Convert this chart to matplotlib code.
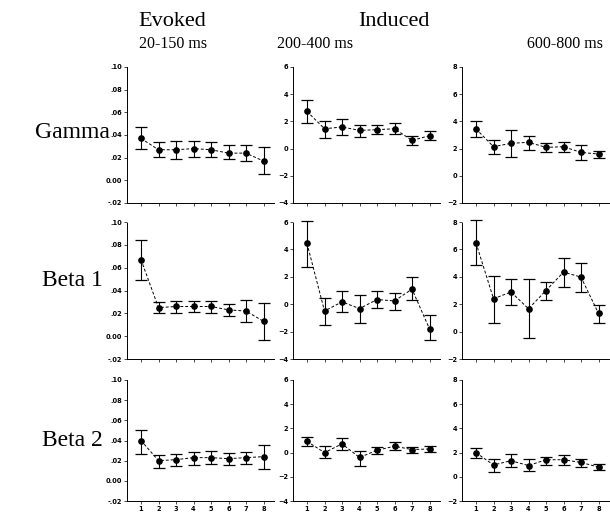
import matplotlib.pyplot as plt
from matplotlib.ticker import FuncFormatter

plt.rcParams['font.family'] = ['Liberation Serif', 'DejaVu Serif']

# x positions (sessions)
sessions = [1, 2, 3, 4, 5, 6, 7, 8]
row_names = ["Gamma", "Beta 1", "Beta 2"]
window_labels = ["20-150 ms", "200-400 ms", "600-800 ms"]

# Evoked 20-150 ms
ev_gamma = [0.037, 0.027, 0.027, 0.028, 0.027, 0.024, 0.024, 0.017]
ev_gamma_lo = [0.028, 0.021, 0.019, 0.021, 0.021, 0.019, 0.017, 0.006]
ev_gamma_hi = [0.047, 0.034, 0.035, 0.035, 0.034, 0.031, 0.031, 0.029]
ev_beta1 = [0.067, 0.025, 0.026, 0.026, 0.026, 0.023, 0.022, 0.013]
ev_beta1_lo = [0.049, 0.020, 0.020, 0.021, 0.020, 0.018, 0.012, -0.003]
ev_beta1_hi = [0.084, 0.030, 0.031, 0.031, 0.031, 0.028, 0.032, 0.029]
ev_beta2 = [0.040, 0.020, 0.021, 0.023, 0.023, 0.022, 0.023, 0.024]
ev_beta2_lo = [0.027, 0.013, 0.015, 0.016, 0.017, 0.016, 0.017, 0.012]
ev_beta2_hi = [0.050, 0.026, 0.027, 0.029, 0.030, 0.028, 0.029, 0.036]

# Induced 200-400 ms
in2_gamma = [2.73, 1.46, 1.59, 1.34, 1.39, 1.46, 0.60, 0.95]
in2_gamma_lo = [1.90, 0.78, 1.02, 0.85, 1.10, 1.10, 0.30, 0.60]
in2_gamma_hi = [3.58, 2.02, 2.15, 1.70, 1.70, 1.90, 0.90, 1.30]
in2_beta1 = [4.44, -0.50, 0.17, -0.32, 0.34, 0.24, 1.10, -1.80]
in2_beta1_lo = [2.73, -1.54, -0.60, -1.40, -0.27, -0.40, 0.30, -2.60]
in2_beta1_hi = [6.10, 0.46, 0.95, 0.70, 0.95, 0.85, 2.00, -0.80]
in2_beta2 = [0.93, 0.00, 0.72, -0.40, 0.19, 0.53, 0.25, 0.30]
in2_beta2_lo = [0.53, -0.48, 0.24, -1.10, -0.10, 0.19, 0.00, 0.05]
in2_beta2_hi = [1.25, 0.53, 1.17, 0.10, 0.50, 0.90, 0.50, 0.55]

# Induced 600-800 ms
in6_gamma = [3.45, 2.14, 2.39, 2.46, 2.09, 2.14, 1.72, 1.60]
in6_gamma_lo = [2.83, 1.60, 1.40, 1.92, 1.77, 1.72, 1.18, 1.28]
in6_gamma_hi = [4.00, 2.60, 3.37, 2.95, 2.40, 2.50, 2.27, 1.85]
in6_beta1 = [6.48, 2.40, 2.89, 1.67, 3.00, 4.34, 3.98, 1.33]
in6_beta1_lo = [4.85, 0.65, 1.92, -0.44, 2.30, 3.28, 2.91, 0.65]
in6_beta1_hi = [8.13, 4.05, 3.81, 3.81, 3.64, 5.39, 5.02, 1.92]
in6_beta2 = [1.99, 0.98, 1.33, 0.93, 1.41, 1.41, 1.19, 0.80]
in6_beta2_lo = [1.54, 0.40, 0.80, 0.45, 1.00, 1.00, 0.80, 0.53]
in6_beta2_hi = [2.39, 1.46, 1.86, 1.46, 1.67, 1.80, 1.50, 1.06]

panels = [
    [(ev_gamma, ev_gamma_lo, ev_gamma_hi), (in2_gamma, in2_gamma_lo, in2_gamma_hi), (in6_gamma, in6_gamma_lo, in6_gamma_hi)],
    [(ev_beta1, ev_beta1_lo, ev_beta1_hi), (in2_beta1, in2_beta1_lo, in2_beta1_hi), (in6_beta1, in6_beta1_lo, in6_beta1_hi)],
    [(ev_beta2, ev_beta2_lo, ev_beta2_hi), (in2_beta2, in2_beta2_lo, in2_beta2_hi), (in6_beta2, in6_beta2_lo, in6_beta2_hi)],
]

yticks = [[-0.02, 0.0, 0.02, 0.04, 0.06, 0.08, 0.10],
          [-4, -2, 0, 2, 4, 6],
          [-2, 0, 2, 4, 6, 8]]


def small_fmt(v, pos):
    if abs(v) < 1e-9:
        return "0.00"
    s = "%.2f" % v
    return s.replace("0.", ".")


W, H = 610, 513
fig = plt.figure(figsize=(W / 100, H / 100), dpi=100)

col_left = [127, 293, 462]
col_w = 147
rows = [(67, 203), (222, 359), (380, 501)]

for r in range(3):
    top, bot = rows[r]
    for c in range(3):
        ax = fig.add_axes([col_left[c] / W, 1 - bot / H, col_w / W, (bot - top) / H])
        m, lo, hi = panels[r][c]
        err = [[mm - l for mm, l in zip(m, lo)], [h - mm for mm, h in zip(m, hi)]]
        ax.plot(sessions, m, color="k", lw=0.7, ls=(0, (3, 2)))
        eb = ax.errorbar(sessions, m, yerr=err, fmt="o", color="k", ms=3.8,
                         capsize=4, elinewidth=0.8, capthick=0.9)
        for art in eb.lines[1] + eb.lines[2]:
            art.set_clip_on(False)
        ax.set_xlim(0.2, 8.6)
        ax.set_ylim(yticks[c][0], yticks[c][-1])
        ax.set_yticks(yticks[c])
        ax.set_xticks(sessions)
        if c == 0:
            ax.yaxis.set_major_formatter(FuncFormatter(small_fmt))
        if r < 2:
            ax.set_xticklabels([])
        for sp in ["top", "right"]:
            ax.spines[sp].set_visible(False)
        for sp in ["left", "bottom"]:
            ax.spines[sp].set_linewidth(0.7)
            ax.spines[sp].set_linestyle((0, (2, 1)))
        ax.tick_params(length=2, width=0.5, pad=1.5, direction="out")
        for lab in ax.get_xticklabels() + ax.get_yticklabels():
            lab.set_family("DejaVu Sans")
            lab.set_fontweight("bold")
            lab.set_fontsize(4.8)
        ax.patch.set_visible(False)

# row labels
row_y = [133, 281, 440]
for name, y in zip(row_names, row_y):
    fig.text(72 / W, 1 - y / H, name, ha="center", va="center", fontsize=17)

# column headers
fig.text(172 / W, 1 - 22 / H, "Evoked", ha="center", va="center", fontsize=16)
fig.text(394 / W, 1 - 22 / H, "Induced", ha="center", va="center", fontsize=16)
for x, lab in zip([173, 315, 565], window_labels):
    fig.text(x / W, 1 - 44 / H, lab, ha="center", va="center", fontsize=11.5)

fig.savefig("out.png", dpi=100)
